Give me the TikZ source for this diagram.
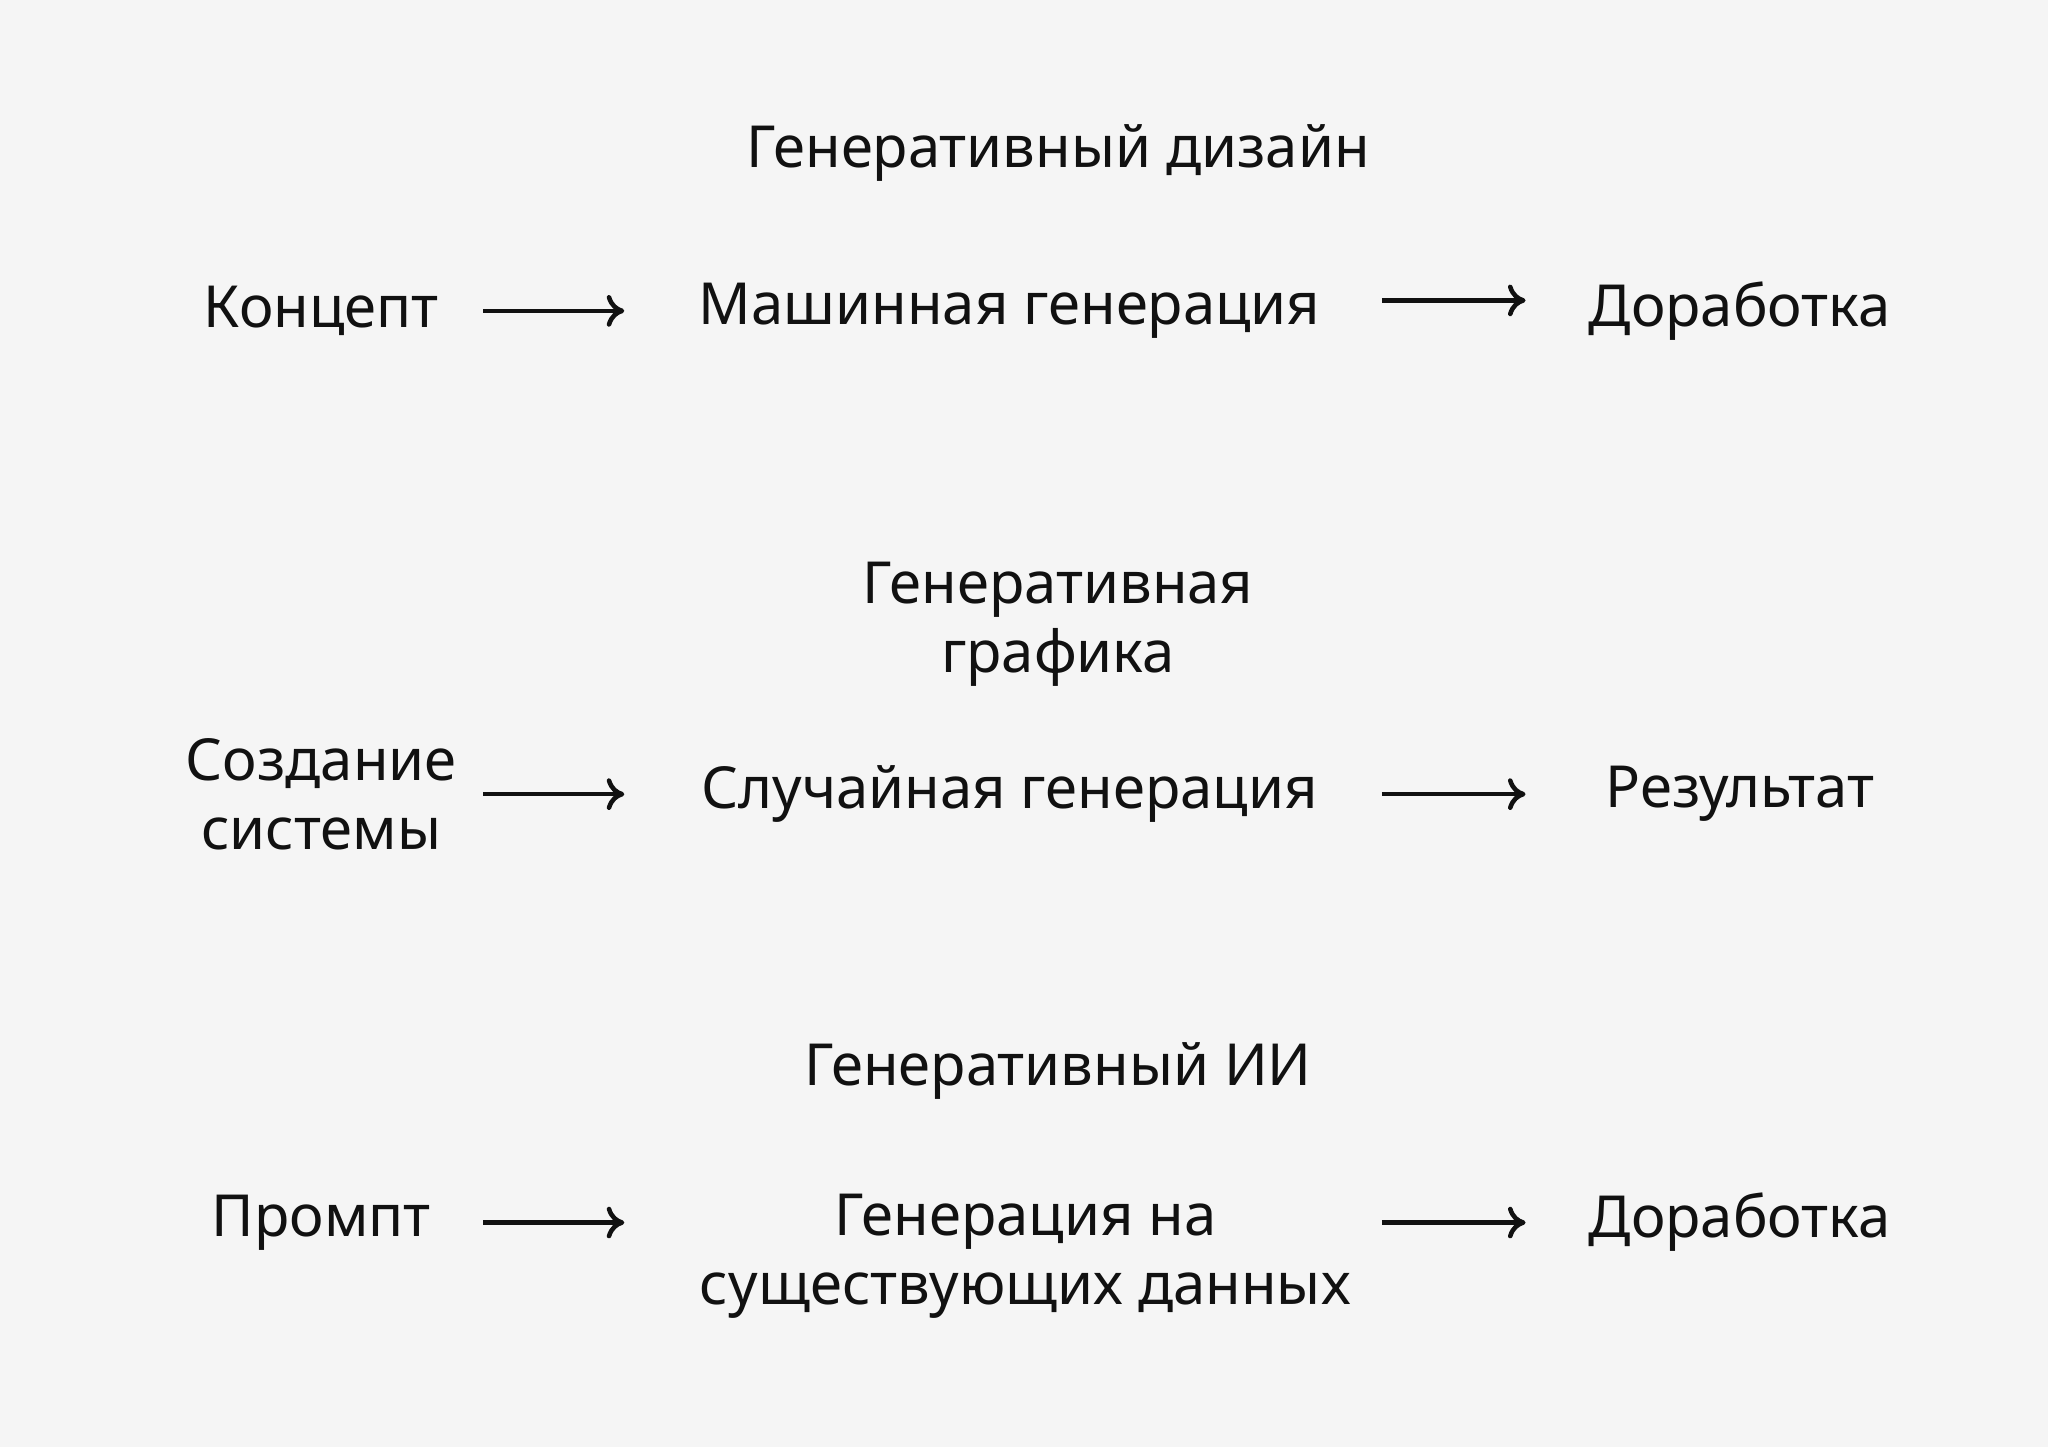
\documentclass[tikz,border=0pt]{standalone}
\usepackage{fontspec}
\setmainfont{Noto Sans}
\usetikzlibrary{positioning,arrows.meta}
\definecolor{bgcol}{HTML}{F5F5F5}
\definecolor{inkcol}{HTML}{111111}

\begin{document}
\begin{tikzpicture}[
    x=0.01306cm,
    y=-0.01306cm,
    every node/.style={text=inkcol,align=center,font=\fontsize{16.5}{19.7}\selectfont},
    title/.style={font=\fontsize{16.5}{19.7}\selectfont\bfseries},
    arr/.style={draw=inkcol,line width=1.3pt,-{To[length=5pt,width=9pt]}}
    ]
    \fill[bgcol] (0,0) rectangle (1568,1108);
    \useasboundingbox (0,0) rectangle (1568,1108);

    % first row
    \node[title] (t1) at (810,117) {Генеративный дизайн};
    \node (a1) at (246,238) {Концепт};
    \node (b1) at (773,238) {Машинная генерация};
    \node (c1) at (1332,238) {Доработка};
    \coordinate (a1e) at (370,238);
    \coordinate (b1w) at (478,238);
    \coordinate (b1e) at (1058,230);
    \coordinate (c1w) at (1168,230);
    \draw[arr] (a1e) -- (b1w);
    \draw[arr] (b1e) -- (c1w);

    % second row
    \node[title] (t2) at (810,478) {Генеративная\\графика};
    \node (a2) at (246,608) {Создание\\системы};
    \node (b2) at (773,608) {Случайная генерация};
    \node (c2) at (1332,608) {Результат};
    \coordinate (a2e) at (370,608);
    \coordinate (b2w) at (478,608);
    \coordinate (b2e) at (1058,608);
    \coordinate (c2w) at (1168,608);
    \draw[arr] (a2e) -- (b2w);
    \draw[arr] (b2e) -- (c2w);

    % third row
    \node[title] (t3) at (810,820) {Генеративный ИИ};
    \node (a3) at (246,936) {Промпт};
    \node (b3) at (785,962) {Генерация на\\существующих данных};
    \node (c3) at (1332,936) {Доработка};
    \coordinate (a3e) at (370,936);
    \coordinate (b3w) at (478,936);
    \coordinate (b3e) at (1058,936);
    \coordinate (c3w) at (1168,936);
    \draw[arr] (a3e) -- (b3w);
    \draw[arr] (b3e) -- (c3w);
\end{tikzpicture}
\end{document}
